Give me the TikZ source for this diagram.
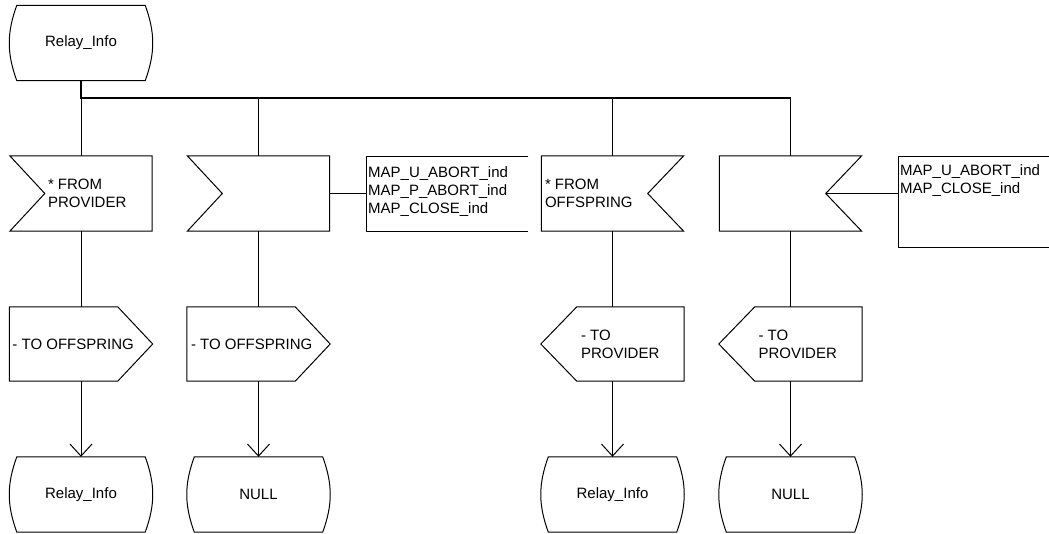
\documentclass[tikz,border=0pt]{standalone}
\usepackage{fontspec}
\setmainfont{Liberation Sans}
\usetikzlibrary{arrows.meta}

\tikzset{
  sdl/.style={inner sep=0pt, font=\fontsize{15}{18}\selectfont},
  statebox/.style={sdl, minimum width=143, minimum height=75, align=center},
  inbox/.style={sdl, minimum width=142, minimum height=75, align=flush left},
  outbox/.style={sdl, minimum width=143, minimum height=74, align=flush left},
  notebox/.style={sdl, anchor=north west, inner xsep=2pt, inner ysep=9pt, align=flush left},
  flow/.style={line width=1pt},
  busline/.style={line width=2pt},
  toarrow/.style={flow, -{Straight Barb[length=12pt,width=22pt]}}
}

\begin{document}
\begin{tikzpicture}[x=1pt, y=-1pt, line join=miter]
    \useasboundingbox (0,0) rectangle (1049,533);
    % Below nodes are the states, inputs and outputs.
        \node[statebox] (s0) at (81,43) {Relay\_Info};
        \node[inbox, text width=66] (in1) at (81,193.5) {* FROM\\PROVIDER};
        \node[inbox] (in2) at (258.5,193.5) {};
        \node[inbox, text width=135] (in3) at (612.5,193.5) {* FROM\\OFFSPRING};
        \node[inbox] (in4) at (790.5,193.5) {};
        \node[notebox, text width=158, inner ysep=10.5pt] (c1) at (366,156) {MAP\_U\_ABORT\_ind\\MAP\_P\_ABORT\_ind\\MAP\_CLOSE\_ind};
        \node[notebox, text width=147, inner ysep=8pt] (c2) at (898,156) {MAP\_U\_ABORT\_ind\\MAP\_CLOSE\_ind};
        \node[outbox, text width=137] (o1) at (81,344) {- TO OFFSPRING};
        \node[outbox, text width=135] (o2) at (258.5,344) {- TO OFFSPRING};
        \node[outbox, text width=63] (o3) at (612.5,344) {- TO\\PROVIDER};
        \node[outbox, text width=64] (o4) at (790.5,344) {- TO\\PROVIDER};
        \node[statebox] (b1) at (81,494.5) {Relay\_Info};
        \node[statebox] (b2) at (258.5,494.5) {NULL};
        \node[statebox] (b3) at (612.5,494.5) {Relay\_Info};
        \node[statebox] (b4) at (790.5,494.5) {NULL};
    % This draws the state outlines.
        \draw[flow] ([xshift=7.5]s0.north west) -- ([xshift=-7.5]s0.north east) to[bend left=20] ([xshift=-7.5]s0.south east) -- ([xshift=7.5]s0.south west) to[bend left=20] ([xshift=7.5]s0.north west) -- cycle;
        \draw[flow] ([xshift=7.5]b1.north west) -- ([xshift=-7.5]b1.north east) to[bend left=20] ([xshift=-7.5]b1.south east) -- ([xshift=7.5]b1.south west) to[bend left=20] ([xshift=7.5]b1.north west) -- cycle;
        \draw[flow] ([xshift=7.5]b2.north west) -- ([xshift=-7.5]b2.north east) to[bend left=20] ([xshift=-7.5]b2.south east) -- ([xshift=7.5]b2.south west) to[bend left=20] ([xshift=7.5]b2.north west) -- cycle;
        \draw[flow] ([xshift=7.5]b3.north west) -- ([xshift=-7.5]b3.north east) to[bend left=20] ([xshift=-7.5]b3.south east) -- ([xshift=7.5]b3.south west) to[bend left=20] ([xshift=7.5]b3.north west) -- cycle;
        \draw[flow] ([xshift=7.5]b4.north west) -- ([xshift=-7.5]b4.north east) to[bend left=20] ([xshift=-7.5]b4.south east) -- ([xshift=7.5]b4.south west) to[bend left=20] ([xshift=7.5]b4.north west) -- cycle;
    % Inputs with the notch.
        \draw[flow] (in1.north west) -- (in1.north east) -- (in1.south east) -- (in1.south west) -- ([xshift=35]in1.west) -- cycle;
        \draw[flow] (in2.north west) -- (in2.north east) -- (in2.south east) -- (in2.south west) -- ([xshift=35]in2.west) -- cycle;
        \draw[flow] (in3.north east) -- (in3.north west) -- (in3.south west) -- (in3.south east) -- ([xshift=-36]in3.east) -- cycle;
        \draw[flow] (in4.north east) -- (in4.north west) -- (in4.south west) -- (in4.south east) -- ([xshift=-36]in4.east) -- cycle;
    % Outputs with the point.
        \draw[flow] (o1.north west) -- ([xshift=-35]o1.north east) -- (o1.east) -- ([xshift=-35]o1.south east) -- (o1.south west) -- cycle;
        \draw[flow] (o2.north west) -- ([xshift=-35]o2.north east) -- (o2.east) -- ([xshift=-35]o2.south east) -- (o2.south west) -- cycle;
        \draw[flow] (o3.north east) -- ([xshift=36]o3.north west) -- (o3.west) -- ([xshift=36]o3.south west) -- (o3.south east) -- cycle;
        \draw[flow] (o4.north east) -- ([xshift=36]o4.north west) -- (o4.west) -- ([xshift=36]o4.south west) -- (o4.south east) -- cycle;
    % Comment brackets.
        \draw[flow] (c1.north east) -- (c1.north west) -- ++(0,75) -- ++(162,0);
        \draw[flow] (c2.north east) -- (c2.north west) -- ++(0,91) -- ++(151,0);
        \draw[flow] (in2.east) -- (in2.east -| c1.west);
        \draw[flow] ([xshift=-36]in4.east) -- (in4.east -| c2.west);
    % The bus from the top state.
        \coordinate (j0) at (81,98);
        \draw[busline] (s0.south) -- (j0) -- (j0 -| in4.north);
        \draw[flow] (j0) -- (in1.north);
        \draw[flow] (j0 -| in2.north) -- (in2.north);
        \draw[flow] (j0 -| in3.north) -- (in3.north);
        \draw[flow] (j0 -| in4.north) -- (in4.north);
        \draw[flow] (in1.south) -- (o1.north);
        \draw[flow] (in2.south) -- (o2.north);
        \draw[flow] (in3.south) -- (o3.north);
        \draw[flow] (in4.south) -- (o4.north);
        \draw[toarrow] (o1.south) -- (b1.north);
        \draw[toarrow] (o2.south) -- (b2.north);
        \draw[toarrow] (o3.south) -- (b3.north);
        \draw[toarrow] (o4.south) -- (b4.north);
    \end{tikzpicture}
\end{document}
